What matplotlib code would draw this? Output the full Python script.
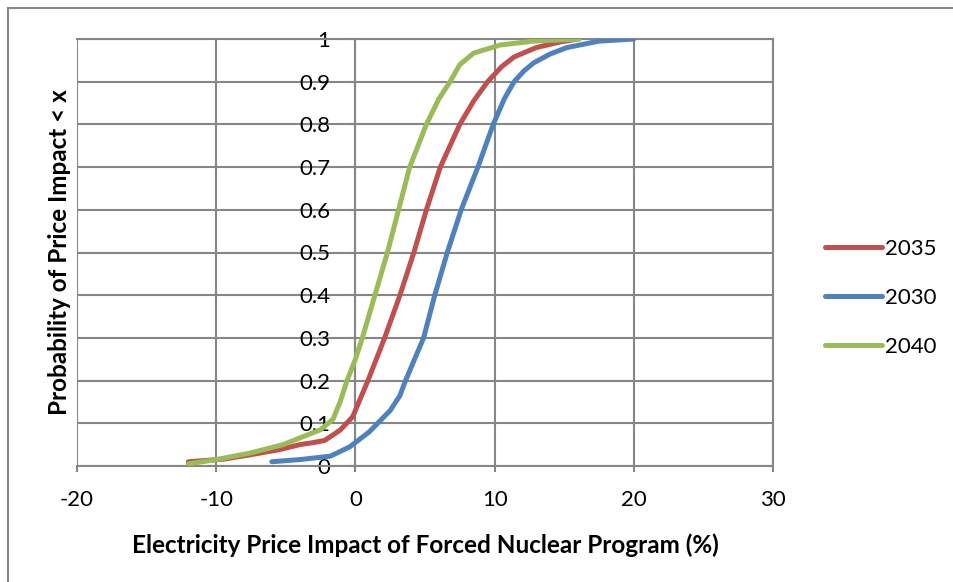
import matplotlib
matplotlib.use("Agg")
import matplotlib.pyplot as plt
from matplotlib.patches import Rectangle

plt.rcParams["font.family"] = ["Lato", "DejaVu Sans"]
plt.rcParams["axes.unicode_minus"] = False

# Cumulative probability curves
x2035 = [-12, -9.5, -7.6, -5.5, -4, -3, -2.2, -1.1, -0.2, 0.9, 2.1, 3.2, 4.2, 5.1, 6.1,
         7.5, 8.5, 9.5, 10.5, 11.4, 13, 14.7, 16]
y2035 = [0.01, 0.016, 0.026, 0.038, 0.05, 0.055, 0.06, 0.084, 0.115, 0.2, 0.3, 0.4, 0.5, 0.6, 0.7,
         0.8, 0.855, 0.9, 0.935, 0.958, 0.98, 0.993, 1.0]

x2030 = [-6, -4, -1.8, -0.4, 1, 2.5, 3.2, 3.6, 4.9, 5.7, 6.6, 7.6, 8.8, 9.9, 10.7, 11.4, 12.1,
         12.8, 14, 15.2, 17.5, 20]
y2030 = [0.01, 0.015, 0.023, 0.045, 0.08, 0.13, 0.165, 0.2, 0.3, 0.4, 0.5, 0.6, 0.7, 0.8, 0.86,
         0.9, 0.925, 0.944, 0.965, 0.98, 0.995, 1.0]

x2040 = [-12, -10, -7.6, -5.2, -2.5, -1.6, -1.1, -0.6, 0, 0.5, 1.4, 2.3, 3.1, 3.9, 5.1, 6, 6.8,
         7.5, 8.5, 10.4, 12.8, 16.1]
y2040 = [0.005, 0.015, 0.03, 0.05, 0.085, 0.11, 0.15, 0.2, 0.25, 0.3, 0.4, 0.5, 0.6, 0.7, 0.8,
         0.86, 0.9, 0.94, 0.967, 0.986, 0.995, 1.0]

series = [("2035", x2035, y2035, "#C0504D"),
          ("2030", x2030, y2030, "#4F81BD"),
          ("2040", x2040, y2040, "#9BBB59")]

xticks = [-20, -10, 0, 10, 20, 30]
yticks = [0, 0.1, 0.2, 0.3, 0.4, 0.5, 0.6, 0.7, 0.8, 0.9, 1]
ytick_labels = ["0", "0.1", "0.2", "0.3", "0.4", "0.5", "0.6", "0.7", "0.8", "0.9", "1"]

grey = "#868686"

fig = plt.figure(figsize=(9.54, 5.82), dpi=100)
ax = fig.add_axes([77 / 954, 1 - 466 / 582, (773 - 77) / 954, (466 - 39) / 582])

# chart area border
fig.patches.append(Rectangle((8 / 954, -0.05), 1.1, 1 - 8 / 582 + 0.05,
                             transform=fig.transFigure, fill=False,
                             edgecolor=grey, linewidth=1.5))

for name, xs, ys, c in series:
    ax.plot(xs, ys, color=c, linewidth=3.6, label=name,
            solid_capstyle="round", solid_joinstyle="round", zorder=3)

ax.set_xlim(-20, 30)
ax.set_ylim(0, 1)
ax.set_xticks(xticks)
ax.set_yticks(yticks)
ax.set_yticklabels(ytick_labels)
ax.grid(True, color=grey, linewidth=1.5)
ax.set_axisbelow(True)

for s in ax.spines.values():
    s.set_color(grey)
    s.set_linewidth(1.5)
ax.spines["left"].set_position(("data", 0))
ax.spines["left"].set_zorder(1)

ax.tick_params(axis="x", length=4, width=1.5, color=grey, pad=13, labelsize=16)
ax.tick_params(axis="y", length=4, width=1.5, color=grey, pad=14, labelsize=16)

ax.set_xlabel("Electricity Price Impact of Forced Nuclear Program (%)",
              fontsize=17.5, fontweight="bold", labelpad=17)
fig.text(60 / 954, 1 - 252 / 582, "Probability of Price Impact < x",
         rotation=90, fontsize=17.5, fontweight="bold", ha="center", va="center")

ax.legend(loc="center left", bbox_to_anchor=(825 / 954, 1 - 298 / 582),
          bbox_transform=fig.transFigure, frameon=False, fontsize=16,
          borderpad=0, borderaxespad=0,
          handlelength=2.55, handletextpad=0.15, labelspacing=1.3)

fig.savefig("out.png", dpi=100)
